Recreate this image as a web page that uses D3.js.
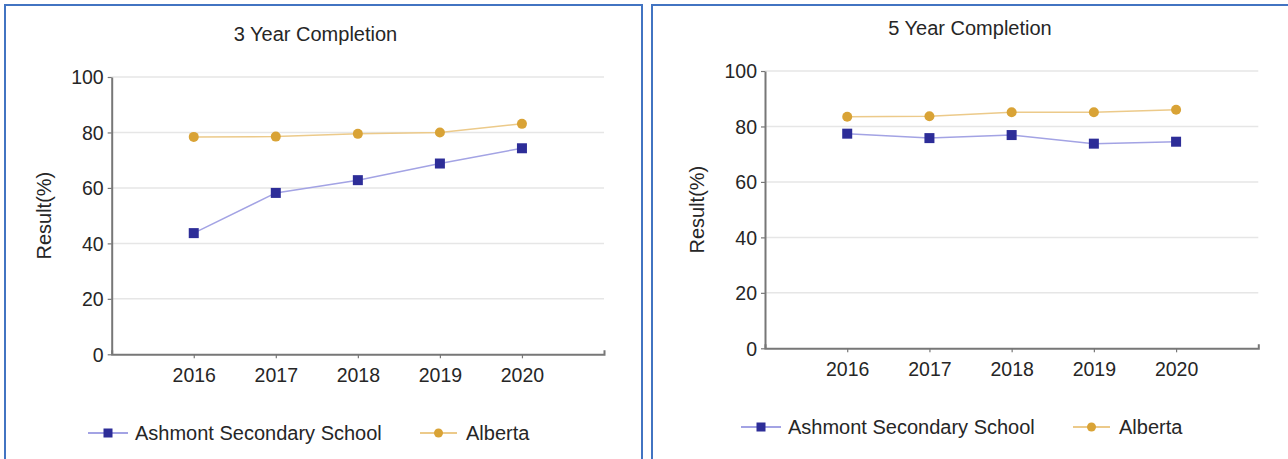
<!DOCTYPE html>
<html>
<head>
<meta charset="utf-8">
<script src="https://cdn.jsdelivr.net/npm/d3@7"></script>
<style>
  html, body { margin: 0; padding: 0; background: #fff; }
  svg { display: block; font-family: "Liberation Sans", Arial, sans-serif; }
</style>
</head>
<body>
<svg id="chart" width="1288" height="459"></svg>
<script>
// Completion rates by school year
const years = [2016, 2017, 2018, 2019, 2020];
const seriesNames = ["Ashmont Secondary School", "Alberta"];
const threeYearSchool = [43.7, 58.2, 62.8, 68.8, 74.3];
const threeYearAlberta = [78.4, 78.5, 79.5, 80.0, 83.1];
const fiveYearSchool = [77.4, 75.8, 76.9, 73.8, 74.5];
const fiveYearAlberta = [83.5, 83.7, 85.1, 85.1, 86.0];
const yTicks = [0, 20, 40, 60, 80, 100];
const titles = ["3 Year Completion", "5 Year Completion"];
const yLabel = "Result(%)";

const colors = {
  schoolLine: "#a3a3e4",
  schoolMark: "#2d2d98",
  albertaLine: "#ecca8a",
  albertaMark: "#d9a336",
  border: "#4274c2",
  axis: "#777",
  grid: "#e6e6e6",
  text: "#262626"
};

const svg = d3.select("#chart");

const panels = [
  { box: [5, 5, 637, 470], plot: { left: 111.7, right: 604, top: 77, bottom: 354.3 },
    title: titles[0], titleX: 315.5, titleY: 34, yLabelX: 44, legendY: 433, legendX: 88,
    school: threeYearSchool, alberta: threeYearAlberta },
  { box: [652, 5, 650, 470], plot: { left: 765, right: 1258.3, top: 71, bottom: 348.3 },
    title: titles[1], titleX: 970, titleY: 28, yLabelX: 697, legendY: 427, legendX: 741,
    school: fiveYearSchool, alberta: fiveYearAlberta }
];

panels.forEach(p => {
  const g = svg.append("g");

  // panel frame
  g.append("rect")
    .attr("x", p.box[0]).attr("y", p.box[1])
    .attr("width", p.box[2]).attr("height", p.box[3])
    .attr("fill", "none").attr("stroke", colors.border).attr("stroke-width", 2);

  const x = d3.scaleLinear().domain([2015, 2021]).range([p.plot.left, p.plot.right]);
  const y = d3.scaleLinear().domain([0, 100]).range([p.plot.bottom, p.plot.top]);

  // horizontal gridlines
  g.append("g").selectAll("line").data(yTicks.filter(t => t > 0)).join("line")
    .attr("x1", p.plot.left).attr("x2", p.plot.right)
    .attr("y1", d => y(d)).attr("y2", d => y(d))
    .attr("stroke", colors.grid).attr("stroke-width", 1.5);

  // y axis
  const yAxis = g.append("g")
    .attr("transform", `translate(${p.plot.left},0)`)
    .call(d3.axisLeft(y).tickValues(yTicks).tickSize(4).tickPadding(4).tickSizeOuter(0));
  yAxis.select(".domain").attr("stroke", colors.axis).attr("stroke-width", 2);
  yAxis.selectAll(".tick line").attr("stroke", colors.axis).attr("stroke-width", 1.2);
  yAxis.selectAll(".tick text").attr("fill", colors.text)
    .style("font-size", "19.5px").attr("dy", "0.35em");

  // x axis
  const xAxis = g.append("g")
    .attr("transform", `translate(0,${p.plot.bottom})`)
    .call(d3.axisBottom(x).tickValues(years).tickFormat(d3.format("d"))
      .tickSize(4).tickSizeOuter(-4).tickPadding(10));
  xAxis.select(".domain").attr("stroke", colors.axis).attr("stroke-width", 2);
  xAxis.selectAll(".tick line").attr("stroke", colors.axis).attr("stroke-width", 1.2);
  xAxis.selectAll(".tick text").attr("fill", colors.text).style("font-size", "19.5px");

  // titles
  g.append("text").attr("x", p.titleX).attr("y", p.titleY)
    .attr("text-anchor", "middle").attr("dy", "0.35em")
    .attr("fill", colors.text).style("font-size", "20px").text(p.title);

  g.append("text")
    .attr("transform", `translate(${p.yLabelX},${(p.plot.top + p.plot.bottom) / 2}) rotate(-90)`)
    .attr("text-anchor", "middle").attr("dy", "0.35em")
    .attr("fill", colors.text).style("font-size", "20px").text(yLabel);

  const line = d3.line().x((d, i) => x(years[i])).y(d => y(d));

  // Alberta series
  g.append("path").datum(p.alberta).attr("d", line)
    .attr("fill", "none").attr("stroke", colors.albertaLine).attr("stroke-width", 1.5);
  g.append("g").selectAll("circle").data(p.alberta).join("circle")
    .attr("cx", (d, i) => x(years[i])).attr("cy", d => y(d)).attr("r", 5)
    .attr("fill", colors.albertaMark);

  // school series
  g.append("path").datum(p.school).attr("d", line)
    .attr("fill", "none").attr("stroke", colors.schoolLine).attr("stroke-width", 1.5);
  g.append("g").selectAll("rect").data(p.school).join("rect")
    .attr("x", (d, i) => x(years[i]) - 5).attr("y", d => y(d) - 5)
    .attr("width", 10).attr("height", 10)
    .attr("fill", colors.schoolMark);

  // legend
  const lg = g.append("g").attr("transform", `translate(${p.legendX},${p.legendY})`);
  lg.append("line").attr("x1", 0).attr("x2", 40).attr("y1", 0).attr("y2", 0)
    .attr("stroke", colors.schoolLine).attr("stroke-width", 2);
  lg.append("rect").attr("x", 15.5).attr("y", -4.5).attr("width", 9).attr("height", 9)
    .attr("fill", colors.schoolMark);
  lg.append("text").attr("x", 47).attr("dy", "0.35em").attr("fill", colors.text)
    .style("font-size", "20px").text(seriesNames[0]);
  lg.append("line").attr("x1", 332).attr("x2", 369).attr("y1", 0).attr("y2", 0)
    .attr("stroke", colors.albertaLine).attr("stroke-width", 2);
  lg.append("circle").attr("cx", 350.5).attr("cy", 0).attr("r", 4.5)
    .attr("fill", colors.albertaMark);
  lg.append("text").attr("x", 378).attr("dy", "0.35em").attr("fill", colors.text)
    .style("font-size", "20px").text(seriesNames[1]);
});
</script>
</body>
</html>
